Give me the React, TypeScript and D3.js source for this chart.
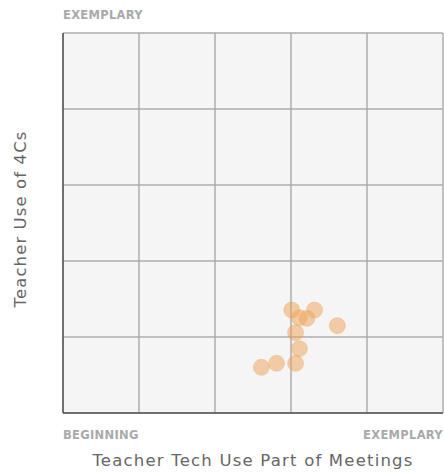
import React from "react";
import * as d3 from "d3";

const xValues = [3.01, 3.31, 3.11, 3.21, 3.61, 3.06, 3.11, 3.06, 2.81, 2.61];
const yValues = [1.355, 1.355, 1.254, 1.246, 1.149, 1.057, 0.846, 0.654, 0.654, 0.601];
const gridTicks = [0, 1, 2, 3, 4, 5];
const xLowLabel = "BEGINNING";
const highLabel = "EXEMPLARY";
const xTitle = "Teacher Tech Use Part of Meetings";
const yTitle = "Teacher Use of 4Cs";

const W = 444;
const H = 475;
const L = 63, R = 443, T = 33, B = 413;

export default function App() {
  const x = d3.scaleLinear().domain([0, 5]).range([L, R]);
  const y = d3.scaleLinear().domain([0, 5]).range([B, T]);
  const font = "'DejaVu Sans', sans-serif";
  const labelStyle = { letterSpacing: "0.3px" };
  return (
    <svg width={W} height={H} style={{ position: "absolute", left: 0, top: 0 }}>
      <rect x={L} y={T} width={R - L} height={B - T} fill="#f5f5f5" />
      {gridTicks.map((t) => (
        <line key={"v" + t} x1={x(t)} x2={x(t)} y1={T} y2={B} stroke="#acacac" strokeWidth={1.5} />
      ))}
      {gridTicks.map((t) => (
        <line key={"h" + t} x1={L} x2={R} y1={y(t)} y2={y(t)} stroke="#acacac" strokeWidth={1.5} />
      ))}
      <line x1={L} x2={L} y1={T} y2={B} stroke="#555" strokeWidth={1.5} />
      <line x1={L} x2={R} y1={B} y2={B} stroke="#555" strokeWidth={1.5} />
      {xValues.map((v, i) => (
        <circle key={i} cx={x(v)} cy={y(yValues[i])} r={8} fill="#eea255" fillOpacity={0.5} stroke="#eea255" strokeOpacity={0.35} strokeWidth={1} />
      ))}
      <text x={L} y={18.5} fontFamily={font} fontWeight={700} fontSize={11.5} fill="#a8aaaa" style={labelStyle}>{highLabel}</text>
      <text x={L} y={438.5} fontFamily={font} fontWeight={700} fontSize={11.5} fill="#a8aaaa" style={labelStyle}>{xLowLabel}</text>
      <text x={R} y={438.5} textAnchor="end" fontFamily={font} fontWeight={700} fontSize={11.5} fill="#a8aaaa" style={labelStyle}>{highLabel}</text>
      <text x={(L + R) / 2} y={465.5} textAnchor="middle" fontFamily={font} fontSize={16.5} fill="#666" style={{ letterSpacing: "1.2px" }}>{xTitle}</text>
      <text transform={`translate(26,${(T + B) / 2 - 4}) rotate(-90)`} textAnchor="middle" fontFamily={font} fontSize={16.5} fill="#666" style={{ letterSpacing: "1.1px" }}>{yTitle}</text>
    </svg>
  );
}
